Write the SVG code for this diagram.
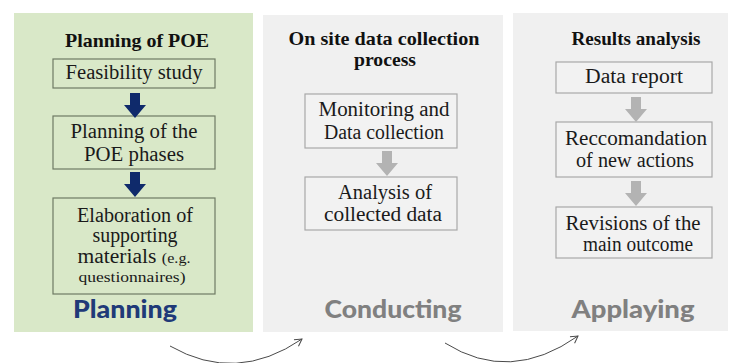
<svg xmlns="http://www.w3.org/2000/svg" width="737" height="363" viewBox="0 0 737 363">
<style>
.t{font-family:"Liberation Serif",serif;font-size:20px;fill:#1a1a1a;text-anchor:middle}
.h{font-family:"Liberation Serif",serif;font-size:19px;font-weight:bold;fill:#111;text-anchor:middle}
.s{font-size:15px}
.big{font-family:"Lato","Open Sans",sans-serif;font-size:24px;font-weight:900;text-anchor:middle}
.gbox{fill:#d9e8c8;stroke:#6e7a64;stroke-width:1.2}
.wbox{fill:#f2f2f2;stroke:#a8a8a8;stroke-width:1.2}
.conn{fill:none;stroke:#4a4a4a;stroke-width:1}
</style>
<defs>
<marker id="ah" markerWidth="10" markerHeight="10" refX="8" refY="5" orient="auto" markerUnits="userSpaceOnUse">
<path d="M1,1 L8,5 L1,9" fill="none" stroke="#4a4a4a" stroke-width="1"/>
</marker>
<path id="blk" d="M-5,0 H5 V12 H11 L0,25 L-11,12 H-5 Z"/>
</defs>
<rect width="737" height="363" fill="#ffffff"/>

<g id="panel-planning">
<rect x="14" y="13" width="239" height="319" fill="#d9e8c8"/>
<text class="h" x="137" y="47" textLength="144" lengthAdjust="spacingAndGlyphs">Planning of POE</text>
<text class="big" x="125" y="318" fill="#1f3a78" textLength="104" lengthAdjust="spacingAndGlyphs">Planning</text>
</g>
<g id="node-feasibility">
<rect class="gbox" x="53" y="59" width="162" height="29"/>
<text class="t" x="134" y="79" textLength="137" lengthAdjust="spacingAndGlyphs">Feasibility study</text>
</g>
<g id="node-phases">
<rect class="gbox" x="53" y="116" width="162" height="53"/>
<text class="t" x="134" y="138" textLength="127" lengthAdjust="spacingAndGlyphs">Planning of the</text>
<text class="t" x="134" y="161" textLength="100" lengthAdjust="spacingAndGlyphs">POE phases</text>
</g>
<g id="node-elaboration">
<rect class="gbox" x="53" y="198" width="162" height="96"/>
<text class="t" x="135" y="222" textLength="116" lengthAdjust="spacingAndGlyphs">Elaboration of</text>
<text class="t" x="135" y="242" textLength="85" lengthAdjust="spacingAndGlyphs">supporting</text>
<text class="t" x="134" y="263" textLength="113" lengthAdjust="spacingAndGlyphs">materials <tspan class="s">(e.g.</tspan></text>
<text class="t s" x="132" y="282" textLength="107" lengthAdjust="spacingAndGlyphs">questionnaires)</text>
</g>

<g id="panel-conducting">
<rect x="263" y="15" width="240" height="317" fill="#f0f0f0"/>
<text class="h" x="384" y="45" textLength="191" lengthAdjust="spacingAndGlyphs">On site data collection</text>
<text class="h" x="385" y="66" textLength="62" lengthAdjust="spacingAndGlyphs">process</text>
<text class="big" x="393" y="318" fill="#808080" textLength="137" lengthAdjust="spacingAndGlyphs">Conducting</text>
</g>
<g id="node-monitoring">
<rect class="wbox" x="305" y="94" width="152" height="54"/>
<text class="t" x="384" y="116" textLength="131" lengthAdjust="spacingAndGlyphs">Monitoring and</text>
<text class="t" x="384" y="139" textLength="120" lengthAdjust="spacingAndGlyphs">Data collection</text>
</g>
<g id="node-analysis">
<rect class="wbox" x="305" y="177" width="152" height="53"/>
<text class="t" x="385" y="199" textLength="94" lengthAdjust="spacingAndGlyphs">Analysis of</text>
<text class="t" x="383" y="221" textLength="118" lengthAdjust="spacingAndGlyphs">collected data</text>
</g>

<g id="panel-applaying">
<rect x="513" y="13" width="215" height="318" fill="#f0f0f0"/>
<text class="h" x="636" y="45" textLength="129" lengthAdjust="spacingAndGlyphs">Results analysis</text>
<text class="big" x="633" y="318" fill="#808080" textLength="123" lengthAdjust="spacingAndGlyphs">Applaying</text>
</g>
<g id="node-report">
<rect class="wbox" x="556" y="62" width="156" height="31"/>
<text class="t" x="634" y="83" textLength="98" lengthAdjust="spacingAndGlyphs">Data report</text>
</g>
<g id="node-recommendation">
<rect class="wbox" x="556" y="122" width="156" height="55"/>
<text class="t" x="636" y="145" textLength="142" lengthAdjust="spacingAndGlyphs">Reccomandation</text>
<text class="t" x="635" y="167" textLength="118" lengthAdjust="spacingAndGlyphs">of new actions</text>
</g>
<g id="node-revisions">
<rect class="wbox" x="556" y="207" width="156" height="51"/>
<text class="t" x="633" y="230" textLength="135" lengthAdjust="spacingAndGlyphs">Revisions of the</text>
<text class="t" x="638" y="251" textLength="110" lengthAdjust="spacingAndGlyphs">main outcome</text>
</g>

<g id="connectors">
<use href="#blk" x="135" y="93" fill="#0f2a6b"/>
<use href="#blk" x="135" y="172" fill="#0f2a6b"/>
<use href="#blk" x="387" y="151" fill="#b3b3b3"/>
<use href="#blk" x="636" y="97" fill="#b3b3b3"/>
<use href="#blk" x="636" y="181" fill="#b3b3b3"/>
<path class="conn" d="M170,346 Q236,384 302,339" marker-end="url(#ah)"/>
<path class="conn" d="M445,343 Q510,384 578,336" marker-end="url(#ah)"/>
</g>
</svg>
